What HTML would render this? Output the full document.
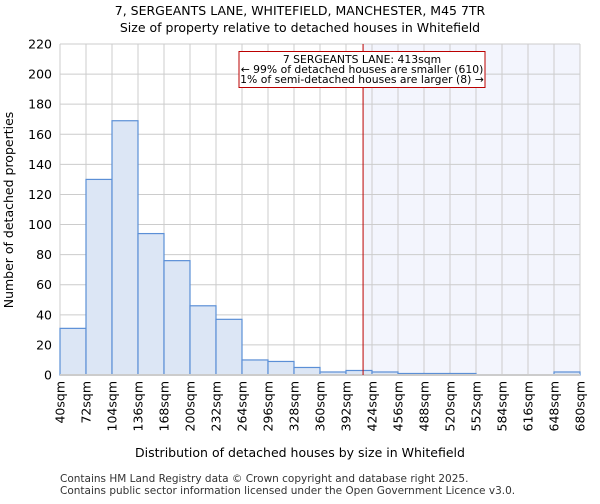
<!DOCTYPE html>
<html><head><meta charset="utf-8"><style>
body{margin:0;background:#fff;font-family:"DejaVu Sans","Liberation Sans",sans-serif}
</style></head><body>
<svg id="c" width="600" height="500" xmlns="http://www.w3.org/2000/svg" font-family="DejaVu Sans, Liberation Sans, sans-serif">
<text x="300" y="15" text-anchor="middle" font-size="12.5">7, SERGEANTS LANE, WHITEFIELD, MANCHESTER, M45 7TR</text>
<text x="300" y="32" text-anchor="middle" font-size="12.5">Size of property relative to detached houses in Whitefield</text>
<g id="plot"></g>
<text x="300" y="457" text-anchor="middle" font-size="12.5">Distribution of detached houses by size in Whitefield</text>
<text transform="translate(13,210) rotate(-90)" text-anchor="middle" font-size="12.5">Number of detached properties</text>
<text x="60" y="482" font-size="10.5" fill="#333">Contains HM Land Registry data © Crown copyright and database right 2025.</text>
<text x="60" y="494" font-size="10.5" fill="#333">Contains public sector information licensed under the Open Government Licence v3.0.</text>
</svg>
<script>
const binStarts=[40,72,104,136,168,200,232,264,296,328,360,392,424,456,488,520,552,584,616,648];
const counts=[31,130,169,94,76,46,37,10,9,5,2,3,2,1,1,1,0,0,0,2];
const yTicks=[0,20,40,60,80,100,120,140,160,180,200,220];
const xTickLabels=[40,72,104,136,168,200,232,264,296,328,360,392,424,456,488,520,552,584,616,648,680];
const markerValue=413;
const NS="http://www.w3.org/2000/svg";
const L=60,R=580,T=44,B=375;
const xs=v=>L+(v-40)/(680-40)*(R-L);
const ys=v=>B-v/220*(B-T);
const g=document.getElementById('plot');
function mk(t,a){const e=document.createElementNS(NS,t);for(const k in a)e.setAttribute(k,a[k]);g.appendChild(e);return e;}
let e;
e=mk('rect',{x:L,y:T,width:R-L,height:B-T,fill:'#fff'});


e=mk('rect',{x:xs(markerValue),y:T,width:R-xs(markerValue),height:B-T,fill:'#f3f5fd'});


yTicks.forEach(v=>{
 e=mk('line',{x1:L,x2:R,y1:ys(v),y2:ys(v),stroke:'#ccc','stroke-width':1});
 
 
 e=mk('text',{x:L-8,y:ys(v)+4.5,'text-anchor':'end','font-size':12.5});
 e.textContent=v;
 
 
});
xTickLabels.forEach(v=>{
 e=mk('line',{x1:xs(v),x2:xs(v),y1:T,y2:B,stroke:'#ccc','stroke-width':1});
 
 
 e=mk('text',{transform:`translate(${xs(v)+4.5},${B+6}) rotate(-90)`,'text-anchor':'end','font-size':12.5});
 e.textContent=v+'sqm';
 
 
});
binStarts.forEach((s,i)=>{
 if(counts[i]<=0)return;
 e=mk('rect',{x:xs(s),y:ys(counts[i]),width:xs(s+32)-xs(s),height:B-ys(counts[i]),fill:'#dce6f5',stroke:'#5b8fd6','stroke-width':1.2});
 
 
});
e=mk('line',{x1:L,x2:R,y1:B,y2:B,stroke:'#ccc','stroke-width':2});


e=mk('line',{x1:xs(markerValue),x2:xs(markerValue),y1:T,y2:B,stroke:'#b00','stroke-width':1});


e=mk('rect',{x:239,y:51.5,width:246,height:36,fill:'#fff',stroke:'#b00','stroke-width':1});


[['7 SERGEANTS LANE: 413sqm',63],['← 99% of detached houses are smaller (610)',73],['1% of semi-detached houses are larger (8) →',83]].forEach(([t,y])=>{
 e=mk('text',{x:362,y:y,'text-anchor':'middle','font-size':10.8});
 e.textContent=t;
 
 
});
</script>
</body></html>
